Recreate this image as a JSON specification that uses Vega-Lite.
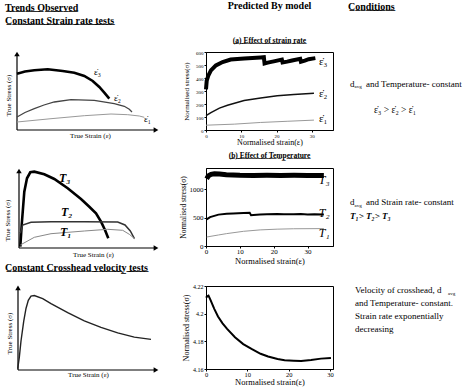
{
 "$schema": "https://vega.github.io/schema/vega-lite/v6.json",
 "padding": {"left": 3, "top": 0, "right": 0, "bottom": 0},
 "background": "white",
 "columns": 3,
 "spacing": {"row": 38, "column": 17},
 "bounds": "flush",
 "align": "each",
 "config": {
  "font": "Liberation Serif",
  "view": {"stroke": null},
  "axis": {"labelFont": "Liberation Serif", "titleFont": "Liberation Serif", "labelColor": "black", "titleColor": "black", "domainColor": "black", "tickColor": "black", "titleFontWeight": "normal", "grid": false, "labelFlush": false},
  "title": {"font": "Liberation Serif", "color": "black", "subtitleFont": "Liberation Serif", "subtitleColor": "black"},
  "text": {"font": "Liberation Serif", "color": "black"}
 },
 "concat": [
  {
   "width": 172, "height": 78,
   "title": {"text": ["T\u0332r\u0332e\u0332n\u0332d\u0332s\u0332 \u0332O\u0332b\u0332s\u0332e\u0332r\u0332v\u0332e\u0332d\u0332", "C\u0332o\u0332n\u0332s\u0332t\u0332a\u0332n\u0332t\u0332 \u0332S\u0332t\u0332r\u0332a\u0332i\u0332n\u0332 \u0332r\u0332a\u0332t\u0332e\u0332 \u0332t\u0332e\u0332s\u0332t\u0332s\u0332"], "anchor": "start", "dx": 1, "fontSize": 10, "fontWeight": "bold", "lineHeight": 13, "offset": 26},
   "data": {"values": [
    {"s": "e3", "x": 0, "y": 56.3}, {"s": "e3", "x": 8, "y": 58.5}, {"s": "e3", "x": 17.3, "y": 59.7}, {"s": "e3", "x": 30.7, "y": 60.7}, {"s": "e3", "x": 45.7, "y": 59}, {"s": "e3", "x": 57.3, "y": 57.3}, {"s": "e3", "x": 67.3, "y": 54}, {"s": "e3", "x": 75.7, "y": 49}, {"s": "e3", "x": 82.3, "y": 43}, {"s": "e3", "x": 87.3, "y": 37.3}, {"s": "e3", "x": 92.3, "y": 31.3},
    {"s": "e2", "x": 0, "y": 13}, {"s": "e2", "x": 8, "y": 17.5}, {"s": "e2", "x": 17.3, "y": 21.3}, {"s": "e2", "x": 27, "y": 25}, {"s": "e2", "x": 37.3, "y": 28}, {"s": "e2", "x": 54, "y": 30.3}, {"s": "e2", "x": 77.3, "y": 29.7}, {"s": "e2", "x": 97.3, "y": 26.3}, {"s": "e2", "x": 107.3, "y": 23.7}, {"s": "e2", "x": 112.3, "y": 20.7}, {"s": "e2", "x": 115, "y": 18},
    {"s": "e1", "x": 0, "y": 8}, {"s": "e1", "x": 34, "y": 11.3}, {"s": "e1", "x": 67.3, "y": 14.3}, {"s": "e1", "x": 94, "y": 16}, {"s": "e1", "x": 110.7, "y": 15.3}, {"s": "e1", "x": 122.3, "y": 14}, {"s": "e1", "x": 127.3, "y": 12.7}
   ]},
   "encoding": {
    "x": {"field": "x", "type": "quantitative", "scale": {"domain": [0, 172], "nice": false}, "axis": {"domain": false, "ticks": false, "labels": false, "title": "True Strain (ε)", "titleFontSize": 7, "titlePadding": 1, "titleX": 73}},
    "y": {"field": "y", "type": "quantitative", "scale": {"domain": [0, 78], "nice": false}, "axis": {"domain": false, "ticks": false, "labels": false, "title": "True Stress (σ)", "titleFontSize": 7, "titlePadding": 6, "titleY": 43}}
   },
   "layer": [
    {"data": {"values": [{"x": 0, "y": 0, "x2": 139, "y2": 0}, {"x": 0, "y": 0, "x2": 0, "y2": 76}]}, "mark": {"type": "rule", "color": "black", "strokeWidth": 1.2}, "encoding": {"x2": {"field": "x2"}, "y2": {"field": "y2"}}},
    {"data": {"values": [{"x": 0, "y": 76}]}, "mark": {"type": "point", "shape": "triangle-up", "filled": true, "color": "black", "size": 30, "opacity": 1}},
    {"data": {"values": [{"x": 139, "y": 0}]}, "mark": {"type": "point", "shape": "triangle-right", "filled": true, "color": "black", "size": 30, "opacity": 1}},
    {"transform": [{"filter": "datum.s == 'e3'"}], "mark": {"type": "line", "color": "black", "strokeWidth": 2.6}},
    {"transform": [{"filter": "datum.s == 'e2'"}], "mark": {"type": "line", "color": "#444", "strokeWidth": 1.3}},
    {"transform": [{"filter": "datum.s == 'e1'"}], "mark": {"type": "line", "color": "#999", "strokeWidth": 1}},
    {"data": {"values": [{"x": 77, "y": 58, "t": "ε\u0307\u2083"}, {"x": 97, "y": 32, "t": "ε\u0307\u2082"}, {"x": 127, "y": 10.7, "t": "ε\u0307\u2081"}]}, "mark": {"type": "text", "align": "left", "fontSize": 9}, "encoding": {"text": {"field": "t"}}}
   ]
  },
  {
   "width": 127, "height": 78,
   "view": {"stroke": "black", "strokeWidth": 1},
   "title": {"text": "Predicted By model", "subtitle": "(\u0332a\u0332)\u0332 \u0332E\u0332f\u0332f\u0332e\u0332c\u0332t\u0332 \u0332o\u0332f\u0332 \u0332s\u0332t\u0332r\u0332a\u0332i\u0332n\u0332 \u0332r\u0332a\u0332t\u0332e\u0332", "anchor": "middle", "dx": 0, "fontSize": 10, "fontWeight": "bold", "subtitleFontSize": 7.5, "subtitleFontWeight": "bold", "subtitlePadding": 26, "offset": 5},
   "data": {"values": [
    {"s": "e3", "x": 0, "y": 313}, {"s": "e3", "x": 0.2, "y": 379}, {"s": "e3", "x": 0.65, "y": 418}, {"s": "e3", "x": 1.4, "y": 458}, {"s": "e3", "x": 2.8, "y": 497}, {"s": "e3", "x": 4.7, "y": 523}, {"s": "e3", "x": 7, "y": 542}, {"s": "e3", "x": 10.8, "y": 550}, {"s": "e3", "x": 15.5, "y": 558}, {"s": "e3", "x": 16.4, "y": 560}, {"s": "e3", "x": 16.6, "y": 512}, {"s": "e3", "x": 17.5, "y": 518}, {"s": "e3", "x": 19.2, "y": 528}, {"s": "e3", "x": 21.5, "y": 542}, {"s": "e3", "x": 21.7, "y": 519}, {"s": "e3", "x": 23, "y": 526}, {"s": "e3", "x": 24.4, "y": 535}, {"s": "e3", "x": 26.7, "y": 548}, {"s": "e3", "x": 26.9, "y": 525}, {"s": "e3", "x": 28, "y": 534}, {"s": "e3", "x": 29.1, "y": 545}, {"s": "e3", "x": 31, "y": 553},
    {"s": "e2", "x": 0, "y": 110}, {"s": "e2", "x": 1.4, "y": 134}, {"s": "e2", "x": 3.8, "y": 168}, {"s": "e2", "x": 6.1, "y": 190}, {"s": "e2", "x": 10.8, "y": 227}, {"s": "e2", "x": 15.5, "y": 247}, {"s": "e2", "x": 20.2, "y": 263}, {"s": "e2", "x": 24.9, "y": 274}, {"s": "e2", "x": 30.6, "y": 282},
    {"s": "e1", "x": 0, "y": 37}, {"s": "e1", "x": 8, "y": 45}, {"s": "e1", "x": 15.5, "y": 58}, {"s": "e1", "x": 23, "y": 67}, {"s": "e1", "x": 30.6, "y": 76}
   ]},
   "encoding": {
    "x": {"field": "x", "type": "quantitative", "scale": {"domain": [0, 36], "nice": false}, "axis": {"values": [0, 10, 20, 30], "labelFontSize": 5, "tickSize": 2, "labelPadding": 1, "title": "Normalised strain(ε)", "titleFontSize": 8, "titlePadding": 0}},
    "y": {"field": "y", "type": "quantitative", "scale": {"domain": [0, 600], "nice": false}, "axis": {"values": [0, 100, 200, 300, 400, 500, 600], "labelFontSize": 5, "tickSize": 2, "labelPadding": 1, "title": "Normalised stress(σ)", "titleFontSize": 7, "titlePadding": 6}}
   },
   "layer": [
    {"transform": [{"filter": "datum.s == 'e3'"}], "mark": {"type": "line", "color": "black", "strokeWidth": 4}},
    {"transform": [{"filter": "datum.s == 'e2'"}], "mark": {"type": "line", "color": "#111", "strokeWidth": 1.5}},
    {"transform": [{"filter": "datum.s == 'e1'"}], "mark": {"type": "line", "color": "#999", "strokeWidth": 1}},
    {"data": {"values": [{"x": 32, "y": 521, "t": "ε\u0307\u2083"}, {"x": 32, "y": 276, "t": "ε\u0307\u2082"}, {"x": 32, "y": 87, "t": "ε\u0307\u2081"}]}, "mark": {"type": "text", "align": "left", "fontSize": 11}, "encoding": {"text": {"field": "t"}}}
   ]
  },
  {
   "width": 120, "height": 78,
   "title": {"text": "C\u0332o\u0332n\u0332d\u0332i\u0332t\u0332i\u0332o\u0332n\u0332s\u0332", "anchor": "start", "dx": -2, "fontSize": 10, "fontWeight": "bold", "offset": 40},
   "encoding": {
    "x": {"field": "c", "type": "nominal", "axis": null, "scale": {"type": "band", "paddingInner": 0, "paddingOuter": 0}, "bandPosition": 0},
    "y": {"field": "line", "type": "quantitative", "axis": null, "scale": {"domain": [-0.23, 2.77], "reverse": true, "nice": false, "zero": false}},
    "text": {"field": "t"}
   },
   "layer": [
    {"data": {"values": [{"c": "a", "line": 1, "t": "d"}]}, "mark": {"type": "text", "align": "left", "fontSize": 9}},
    {"data": {"values": [{"c": "a", "line": 1, "t": "avg"}]}, "mark": {"type": "text", "align": "left", "fontSize": 5, "dx": 4.5, "dy": 2.5}},
    {"data": {"values": [{"c": "a", "line": 1, "t": "and Temperature- constant"}]}, "mark": {"type": "text", "align": "left", "fontSize": 9, "dx": 16}},
    {"data": {"values": [{"c": "a", "line": 2, "t": "ε\u0307\u2083 > ε\u0307\u2082 > ε\u0307\u2081"}]}, "mark": {"type": "text", "align": "left", "fontSize": 9.5, "dx": 24}}
   ]
  },
  {
   "width": 172, "height": 80,
   "data": {"values": [
    {"s": "T3", "x": 3.3, "y": 1.3}, {"s": "T3", "x": 4.7, "y": 23}, {"s": "T3", "x": 7.3, "y": 56.3}, {"s": "T3", "x": 10, "y": 69.7}, {"s": "T3", "x": 13.3, "y": 75.7}, {"s": "T3", "x": 17.3, "y": 76.3}, {"s": "T3", "x": 27.3, "y": 73.7}, {"s": "T3", "x": 37.3, "y": 69}, {"s": "T3", "x": 50.7, "y": 59.7}, {"s": "T3", "x": 64, "y": 49}, {"s": "T3", "x": 72.3, "y": 41.3}, {"s": "T3", "x": 79, "y": 34.7}, {"s": "T3", "x": 84, "y": 26.3}, {"s": "T3", "x": 88, "y": 18}, {"s": "T3", "x": 91.3, "y": 9.7},
    {"s": "T2", "x": 3.3, "y": 14.7}, {"s": "T2", "x": 5.7, "y": 23}, {"s": "T2", "x": 14, "y": 25.7}, {"s": "T2", "x": 34, "y": 26.3}, {"s": "T2", "x": 67.3, "y": 26.3}, {"s": "T2", "x": 100.7, "y": 26}, {"s": "T2", "x": 108, "y": 23}, {"s": "T2", "x": 113.3, "y": 17}, {"s": "T2", "x": 117.3, "y": 9.7},
    {"s": "T1", "x": 3.3, "y": 3}, {"s": "T1", "x": 17.3, "y": 10.7}, {"s": "T1", "x": 34, "y": 14.3}, {"s": "T1", "x": 67.3, "y": 17}, {"s": "T1", "x": 90.7, "y": 18.7}, {"s": "T1", "x": 105.7, "y": 17.7}, {"s": "T1", "x": 112.3, "y": 13.7}, {"s": "T1", "x": 118, "y": 9}
   ]},
   "encoding": {
    "x": {"field": "x", "type": "quantitative", "scale": {"domain": [0, 172], "nice": false}, "axis": {"domain": false, "ticks": false, "labels": false, "title": "True Strain (ε)", "titleFontSize": 7, "titlePadding": 2, "titleX": 76}},
    "y": {"field": "y", "type": "quantitative", "scale": {"domain": [0, 80], "nice": false}, "axis": {"domain": false, "ticks": false, "labels": false, "title": "True Stress (σ)", "titleFontSize": 7, "titlePadding": 7, "titleY": 52}}
   },
   "layer": [
    {"data": {"values": [{"x": 2, "y": 0, "x2": 139, "y2": 0}, {"x": 2, "y": 0, "x2": 2, "y2": 77}]}, "mark": {"type": "rule", "color": "black", "strokeWidth": 1.2}, "encoding": {"x2": {"field": "x2"}, "y2": {"field": "y2"}}},
    {"data": {"values": [{"x": 2, "y": 77}]}, "mark": {"type": "point", "shape": "triangle-up", "filled": true, "color": "black", "size": 30, "opacity": 1}},
    {"data": {"values": [{"x": 139, "y": 0}]}, "mark": {"type": "point", "shape": "triangle-right", "filled": true, "color": "black", "size": 30, "opacity": 1}},
    {"transform": [{"filter": "datum.s == 'T3'"}], "mark": {"type": "line", "color": "black", "strokeWidth": 2.6}},
    {"transform": [{"filter": "datum.s == 'T2'"}], "mark": {"type": "line", "color": "#333", "strokeWidth": 1.5}},
    {"transform": [{"filter": "datum.s == 'T1'"}], "mark": {"type": "line", "color": "#888", "strokeWidth": 1}},
    {"data": {"values": [{"x": 42, "y": 70, "t": "T\u2083"}, {"x": 44, "y": 36, "t": "T\u2082"}, {"x": 43, "y": 16.3, "t": "T\u2081"}]}, "mark": {"type": "text", "align": "left", "fontSize": 12, "fontStyle": "italic", "fontWeight": "bold"}, "encoding": {"text": {"field": "t"}}}
   ]
  },
  {
   "width": 127, "height": 78,
   "view": {"stroke": "black", "strokeWidth": 1},
   "title": {"text": "(\u0332b\u0332)\u0332 \u0332E\u0332f\u0332f\u0332e\u0332c\u0332t\u0332 \u0332o\u0332f\u0332 \u0332T\u0332e\u0332m\u0332p\u0332e\u0332r\u0332a\u0332t\u0332u\u0332r\u0332e\u0332", "anchor": "middle", "dx": 0, "fontSize": 7.5, "fontWeight": "bold", "offset": 4},
   "data": {"values": [
    {"s": "T3", "x": 0.2, "y": 1191}, {"s": "T3", "x": 0.7, "y": 1240}, {"s": "T3", "x": 1.5, "y": 1268}, {"s": "T3", "x": 2.5, "y": 1279}, {"s": "T3", "x": 4, "y": 1275}, {"s": "T3", "x": 6, "y": 1262}, {"s": "T3", "x": 8, "y": 1255}, {"s": "T3", "x": 10, "y": 1250}, {"s": "T3", "x": 14, "y": 1248}, {"s": "T3", "x": 18, "y": 1250}, {"s": "T3", "x": 22, "y": 1247}, {"s": "T3", "x": 26, "y": 1250}, {"s": "T3", "x": 30, "y": 1249}, {"s": "T3", "x": 34.8, "y": 1248},
    {"s": "T2", "x": 0.2, "y": 472}, {"s": "T2", "x": 1.2, "y": 512}, {"s": "T2", "x": 3.7, "y": 555}, {"s": "T2", "x": 6.1, "y": 572}, {"s": "T2", "x": 8, "y": 575}, {"s": "T2", "x": 11.1, "y": 583}, {"s": "T2", "x": 12.9, "y": 588}, {"s": "T2", "x": 13.3, "y": 545}, {"s": "T2", "x": 14, "y": 550}, {"s": "T2", "x": 16, "y": 556}, {"s": "T2", "x": 18, "y": 561}, {"s": "T2", "x": 21, "y": 566}, {"s": "T2", "x": 23, "y": 560}, {"s": "T2", "x": 25.9, "y": 562}, {"s": "T2", "x": 28, "y": 566}, {"s": "T2", "x": 30, "y": 558}, {"s": "T2", "x": 32, "y": 563}, {"s": "T2", "x": 34.8, "y": 556},
    {"s": "T1", "x": 0.2, "y": 159}, {"s": "T1", "x": 3.7, "y": 195}, {"s": "T1", "x": 6.1, "y": 219}, {"s": "T1", "x": 11.1, "y": 260}, {"s": "T1", "x": 16, "y": 285}, {"s": "T1", "x": 21, "y": 298}, {"s": "T1", "x": 25.9, "y": 305}, {"s": "T1", "x": 34.8, "y": 308}
   ]},
   "encoding": {
    "x": {"field": "x", "type": "quantitative", "scale": {"domain": [0, 37.5], "nice": false}, "axis": {"values": [0, 10, 20, 30], "labelFontSize": 7, "tickSize": 2, "labelPadding": -1, "title": "Normalised strain(ε)", "titleFontSize": 8.5, "titlePadding": 2}},
    "y": {"field": "y", "type": "quantitative", "scale": {"domain": [0, 1380], "nice": false}, "axis": {"values": [0, 500, 1000], "format": "d", "labelFontSize": 7, "tickSize": 2, "labelPadding": 1, "title": "Normalised stress(σ)", "titleFontSize": 7.5, "titlePadding": 2}}
   },
   "layer": [
    {"transform": [{"filter": "datum.s == 'T3'"}], "mark": {"type": "line", "color": "black", "strokeWidth": 5}},
    {"transform": [{"filter": "datum.s == 'T2'"}], "mark": {"type": "line", "color": "black", "strokeWidth": 2}},
    {"transform": [{"filter": "datum.s == 'T1'"}], "mark": {"type": "line", "color": "#999", "strokeWidth": 1}},
    {"data": {"values": [{"x": 33.3, "y": 1160, "t": "T\u2083"}, {"x": 33.3, "y": 578, "t": "T\u2082"}, {"x": 33.3, "y": 224, "t": "T\u2081"}]}, "mark": {"type": "text", "align": "left", "fontSize": 12, "fontStyle": "italic"}, "encoding": {"text": {"field": "t"}}}
   ]
  },
  {
   "width": 120, "height": 80,
   "encoding": {
    "x": {"field": "c", "type": "nominal", "axis": null, "scale": {"type": "band", "paddingInner": 0, "paddingOuter": 0}, "bandPosition": 0},
    "y": {"field": "line", "type": "quantitative", "axis": null, "scale": {"domain": [-1.4286, 4.2857], "reverse": true, "nice": false, "zero": false}},
    "text": {"field": "t"}
   },
   "layer": [
    {"data": {"values": [{"c": "a", "line": 1, "t": "d"}]}, "mark": {"type": "text", "align": "left", "fontSize": 9}},
    {"data": {"values": [{"c": "a", "line": 1, "t": "avg"}]}, "mark": {"type": "text", "align": "left", "fontSize": 5, "dx": 4.5, "dy": 2.5}},
    {"data": {"values": [{"c": "a", "line": 1, "t": "and Strain rate- constant"}]}, "mark": {"type": "text", "align": "left", "fontSize": 9, "dx": 16}},
    {"data": {"values": [{"c": "a", "line": 2, "t": "T\u2081> T\u2082> T\u2083"}]}, "mark": {"type": "text", "align": "left", "fontSize": 9, "fontStyle": "italic", "fontWeight": "bold"}}
   ]
  },
  {
   "width": 172, "height": 84,
   "title": {"text": "C\u0332o\u0332n\u0332s\u0332t\u0332a\u0332n\u0332t\u0332 \u0332C\u0332r\u0332o\u0332s\u0332s\u0332h\u0332e\u0332a\u0332d\u0332 \u0332v\u0332e\u0332l\u0332o\u0332c\u0332i\u0332t\u0332y\u0332 \u0332t\u0332e\u0332s\u0332t\u0332s\u0332", "anchor": "start", "dx": 0, "fontSize": 10, "fontWeight": "bold", "offset": 13},
   "data": {"values": [
    {"x": 0.7, "y": 1.3}, {"x": 2.3, "y": 13}, {"x": 4, "y": 29.7}, {"x": 6.7, "y": 49.7}, {"x": 9, "y": 63}, {"x": 11.3, "y": 71.3}, {"x": 14, "y": 75.7}, {"x": 17.3, "y": 76.3}, {"x": 25.7, "y": 73}, {"x": 34, "y": 68}, {"x": 50.7, "y": 58.7}, {"x": 67.3, "y": 50.3}, {"x": 84, "y": 43.7}, {"x": 100.7, "y": 38}, {"x": 117.3, "y": 33.7}, {"x": 134, "y": 31.3}
   ]},
   "encoding": {
    "x": {"field": "x", "type": "quantitative", "scale": {"domain": [0, 172], "nice": false}, "axis": {"domain": false, "ticks": false, "labels": false, "title": "True Strain (ε)", "titleFontSize": 7, "titlePadding": 0, "titleX": 71}},
    "y": {"field": "y", "type": "quantitative", "scale": {"domain": [0, 86], "nice": false}, "axis": {"domain": false, "ticks": false, "labels": false, "title": "True Stress (σ)", "titleFontSize": 7, "titlePadding": 5, "titleY": 47}}
   },
   "layer": [
    {"data": {"values": [{"x": 1, "y": 0, "x2": 139, "y2": 0}, {"x": 1, "y": 0, "x2": 1, "y2": 84}]}, "mark": {"type": "rule", "color": "black", "strokeWidth": 1.2}, "encoding": {"x2": {"field": "x2"}, "y2": {"field": "y2"}}},
    {"data": {"values": [{"x": 1, "y": 84}]}, "mark": {"type": "point", "shape": "triangle-up", "filled": true, "color": "black", "size": 30, "opacity": 1}},
    {"data": {"values": [{"x": 139, "y": 0}]}, "mark": {"type": "point", "shape": "triangle-right", "filled": true, "color": "black", "size": 30, "opacity": 1}},
    {"mark": {"type": "line", "color": "#222", "strokeWidth": 1.4}}
   ]
  },
  {
   "width": 127, "height": 83,
   "view": {"stroke": "black", "strokeWidth": 1},
   "data": {"values": [
    {"x": 0, "y": 4.2115}, {"x": 0.3, "y": 4.2125}, {"x": 0.6, "y": 4.213}, {"x": 1, "y": 4.2105}, {"x": 2, "y": 4.2035}, {"x": 2.9, "y": 4.198}, {"x": 4, "y": 4.193}, {"x": 5.1, "y": 4.189}, {"x": 7, "y": 4.183}, {"x": 9, "y": 4.178}, {"x": 11, "y": 4.1745}, {"x": 13.2, "y": 4.171}, {"x": 15, "y": 4.169}, {"x": 17.3, "y": 4.1672}, {"x": 19, "y": 4.1663}, {"x": 21.2, "y": 4.166}, {"x": 23, "y": 4.1658}, {"x": 25.4, "y": 4.1665}, {"x": 27.8, "y": 4.1675}, {"x": 30.2, "y": 4.168}
   ]},
   "mark": {"type": "line", "color": "black", "strokeWidth": 2},
   "encoding": {
    "x": {"field": "x", "type": "quantitative", "scale": {"domain": [0, 30.7], "nice": false}, "axis": {"values": [0, 10, 20, 30], "labelFontSize": 6.5, "tickSize": 2, "labelPadding": 0, "title": "Normalised strain(ε)", "titleFontSize": 8.5, "titlePadding": 0}},
    "y": {"field": "y", "type": "quantitative", "scale": {"domain": [4.16, 4.22], "nice": false, "zero": false}, "axis": {"values": [4.16, 4.18, 4.2, 4.22], "format": ".2~f", "labelFontSize": 6, "tickSize": 2, "labelPadding": 1, "title": "Normalised stress(σ)", "titleFontSize": 8, "titlePadding": 2}}
   }
  },
  {
   "width": 120, "height": 83,
   "encoding": {
    "x": {"field": "c", "type": "nominal", "axis": null, "scale": {"type": "band", "paddingInner": 0, "paddingOuter": 0}, "bandPosition": 0},
    "y": {"field": "line", "type": "quantitative", "axis": null, "scale": {"domain": [0.6923, 7.0769], "reverse": true, "nice": false, "zero": false}},
    "text": {"field": "t"}
   },
   "layer": [
    {"data": {"values": [{"c": "a", "line": 1, "t": "Velocity of crosshead, d"}, {"c": "a", "line": 2, "t": "and Temperature- constant."}, {"c": "a", "line": 3, "t": "Strain rate exponentially"}, {"c": "a", "line": 4, "t": "decreasing"}]}, "mark": {"type": "text", "align": "left", "fontSize": 9, "dx": 5}},
    {"data": {"values": [{"c": "a", "line": 1, "t": "avg"}]}, "mark": {"type": "text", "align": "left", "fontSize": 5, "dx": 98, "dy": 2.5}}
   ]
  }
 ]
}
